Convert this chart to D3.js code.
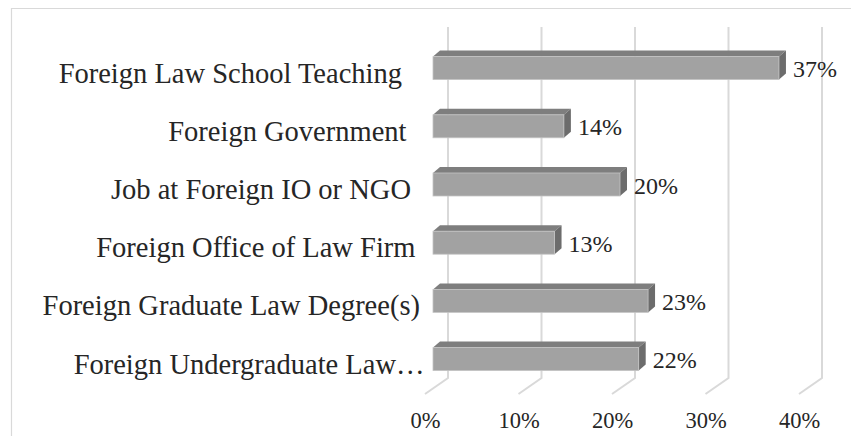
<!DOCTYPE html>
<html>
<head>
<meta charset="utf-8">
<script src="https://cdn.jsdelivr.net/npm/d3@7"></script>
<style>
  html, body { margin: 0; padding: 0; background: #fff; }
  svg { display: block; }
  svg text { font-family: "Liberation Serif", serif; }
</style>
</head>
<body>
<svg id="chart" width="851" height="436"></svg>
<script>
const categories = [
  "Foreign Law School Teaching",
  "Foreign Government",
  "Job at Foreign IO or NGO",
  "Foreign Office of Law Firm",
  "Foreign Graduate Law Degree(s)",
  "Foreign Undergraduate Law…"
];
const values = [37, 14, 20, 13, 23, 22];
const tickValues = [0, 10, 20, 30, 40];
const tickLabels = ["0%", "10%", "20%", "30%", "40%"];

const svg = d3.select("#chart");
const textColor = "#262626";

// chart border (extends past the picture at right and bottom)
svg.append("path")
  .attr("d", "M11.5,440 V8.5 H860")
  .attr("fill", "none").attr("stroke", "#d9d9d9").attr("stroke-width", 1.2);

// scales: x is the front edge of the floor
const x = d3.scaleLinear().domain([0, 40]).range([425, 799]);
const y = d3.scaleBand().domain(categories).range([39, 388.2])
  .paddingInner(0.605).paddingOuter(0.3025);

// 3D offsets
const wallDx = 23, wallTop = 27, wallBottom = 378, floorFront = 394;
const barInset = 8, depthDx = 7, depthDy = -6;

// gridlines (back wall + floor)
const grid = svg.append("g");
tickValues.forEach(v => {
  const xf = x(v), xb = x(v) + wallDx;
  grid.append("path")
    .attr("d", `M${xb},${wallTop} V${wallBottom} L${xf},${floorFront}`)
    .attr("fill", "none").attr("stroke", "#d9d9d9").attr("stroke-width", 2);
});

// axis tick labels
const xAxis = d3.axisBottom(x).tickValues(tickValues)
  .tickFormat((d, i) => tickLabels[i]).tickSize(0).tickPadding(0);
const axisG = svg.append("g").attr("transform", "translate(0,410)").call(xAxis);
axisG.attr("font-family", null).attr("font-size", null);
axisG.select(".domain").remove();
axisG.selectAll("text")
  .attr("font-size", 22.5).attr("fill", textColor)
  .attr("dy", "0.8em").attr("y", 0);

// bars
const bars = svg.append("g");
categories.forEach((c, i) => {
  const v = values[i];
  const xl = x(0) + barInset, xr = x(v) + barInset;
  const yt = y(c), h = y.bandwidth(), yb = yt + h;
  bars.append("path")
    .attr("d", `M${xl},${yt} L${xl + depthDx},${yt + depthDy} L${xr + depthDx},${yt + depthDy} L${xr},${yt} Z`)
    .attr("fill", "#7e7e7e");
  bars.append("path")
    .attr("d", `M${xr},${yt} L${xr + depthDx},${yt + depthDy} L${xr + depthDx},${yb + depthDy} L${xr},${yb} Z`)
    .attr("fill", "#6c6c6c");
  bars.append("rect")
    .attr("x", xl).attr("y", yt).attr("width", xr - xl).attr("height", h)
    .attr("fill", "#a2a2a2").attr("stroke", "#c4c4c4").attr("stroke-width", 0.8);
  bars.append("text")
    .attr("x", xr + 14).attr("y", yt + h / 2 + 9)
    .attr("font-size", 24).attr("fill", textColor)
    .text(v + "%");
});

// category labels
svg.append("g").selectAll("text").data(categories).join("text")
  .attr("x", (d, i) => 402 + i * 4.5)
  .attr("y", d => y(d) + y.bandwidth() / 2 + 14.5)
  .attr("text-anchor", "end")
  .attr("font-size", 28.5).attr("fill", textColor)
  .text(d => d);
</script>
</body>
</html>
